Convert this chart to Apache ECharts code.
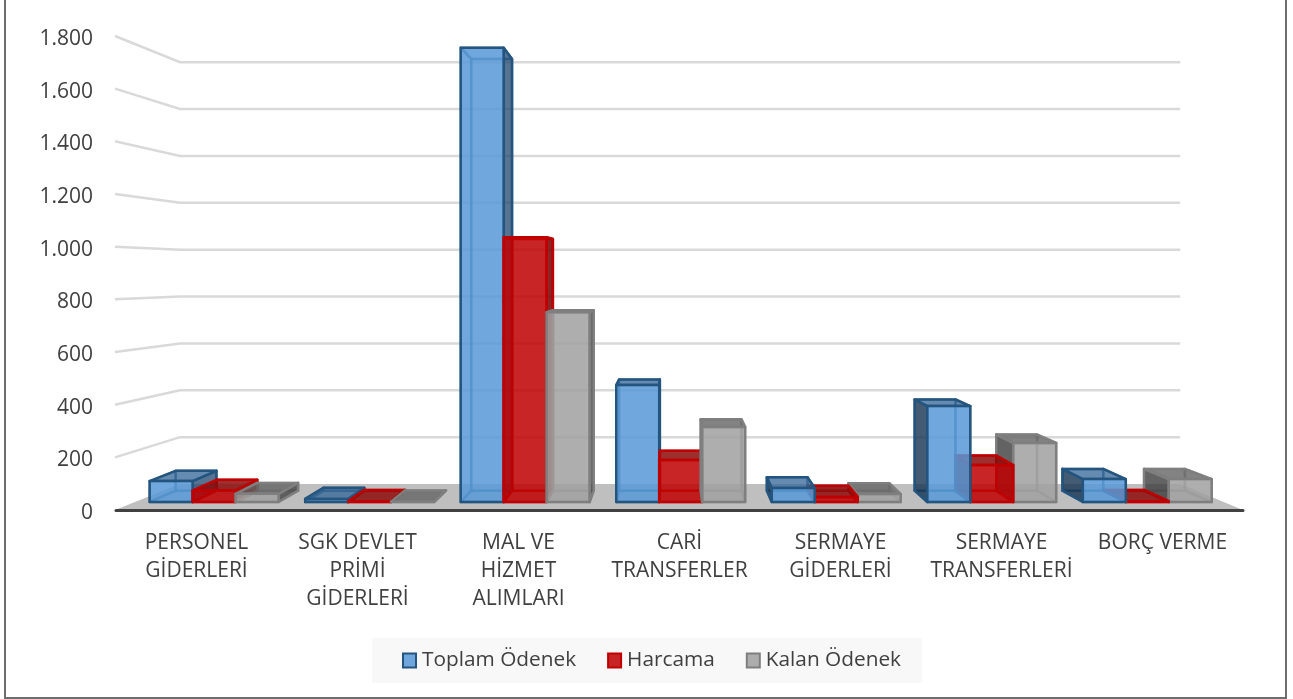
<!DOCTYPE html>
<html>
<head>
<meta charset="utf-8">
<style>
  html, body { margin: 0; padding: 0; background: #fff; }
  #main { width: 1293px; height: 699px; }
</style>
<script src="https://cdn.jsdelivr.net/npm/echarts@6/dist/echarts.min.js"></script>
</head>
<body>
<div id="main"></div>
<script>
const categories = ['PERSONEL\nGİDERLERİ', 'SGK DEVLET\nPRİMİ\nGİDERLERİ', 'MAL VE\nHİZMET\nALIMLARI', 'CARİ\nTRANSFERLER', 'SERMAYE\nGİDERLERİ', 'SERMAYE\nTRANSFERLERİ', 'BORÇ VERME']
const toplamOdenek = [82, 12, 1786, 460, 55, 377, 90]
const harcama = [45, 3, 1041, 165, 20, 145, 3]
const kalanOdenek = [32, 1, 746, 295, 31, 232, 90]
const wallTicks = [200, 400, 600, 800, 1000, 1200, 1400, 1600, 1800]

// perspective of the excel 3d chart
const VX = 672
const EY = 274
const T_FRONT = 0.034
const T_BACK = 0.082
const T_WALL = 0.11

const FONT = '"Open Sans", "Noto Sans", sans-serif'

const palettes = [
  { front: 'rgba(87,153,215,0.85)', line: '#24557f', top: 'rgba(50,100,150,0.75)', right: 'rgba(30,70,110,0.75)', left: 'rgba(20,50,80,0.8)', ghost: 'rgba(36,85,127,0.55)' },
  { front: 'rgba(190,0,0,0.85)', line: '#c00000', top: 'rgba(140,10,10,0.85)', right: 'rgba(120,0,0,0.85)', left: 'rgba(110,0,0,0.85)', ghost: 'rgba(192,0,0,0.6)' },
  { front: 'rgba(160,160,160,0.85)', line: '#7f7f7f', top: 'rgba(100,100,100,0.8)', right: 'rgba(70,70,70,0.8)', left: 'rgba(60,60,60,0.8)', ghost: 'rgba(127,127,127,0.5)' }
]

function project (x, y, t) {
  return [x + t * (VX - x), y + t * (EY - y)]
}

function face (points, fill, stroke, z2) {
  return {
    type: 'polygon',
    z2: z2,
    shape: { points: points },
    style: { fill: fill, stroke: stroke, lineWidth: 2.5, lineJoin: 'round' }
  }
}

function barRenderer (seriesIndex) {
  const pal = palettes[seriesIndex]
  return function (params, api) {
    const cat = api.value(0)
    const top = api.coord([cat, api.value(1)])
    const base = api.coord([cat, 0])
    const band = api.size([1, 0])[0]
    const w = band / 3.62
    const x0 = top[0] + (seriesIndex - 1.5) * w + 1.5
    const x1 = x0 + w

    const fbl = project(x0, base[1], T_FRONT)
    const fbr = project(x1, base[1], T_FRONT)
    const ftl = project(x0, top[1], T_FRONT)
    const ftr = project(x1, top[1], T_FRONT)
    const bbl = project(x0, base[1], T_BACK)
    const bbr = project(x1, base[1], T_BACK)
    const btl = project(x0, top[1], T_BACK)
    const btr = project(x1, top[1], T_BACK)

    // left of the vanishing point the bars stack blue over gray, right of it the other way
    const order = cat <= 3 ? seriesIndex : 2 - seriesIndex
    const z = 10 + order * 10
    const children = []

    children.push(face([bbl, bbr, btr, btl], 'transparent', pal.ghost, z))
    children.push(face([fbl, fbr, bbr, bbl], 'transparent', pal.ghost, z + 1))

    const leftVisible = bbl[0] < fbl[0]
    const rightVisible = bbr[0] > fbr[0]
    children.push(face([fbl, ftl, btl, bbl], leftVisible ? pal.left : 'transparent', leftVisible ? pal.line : pal.ghost, z + 2))
    children.push(face([fbr, ftr, btr, bbr], rightVisible ? pal.right : 'transparent', rightVisible ? pal.line : pal.ghost, z + 3))

    const topVisible = ftl[1] > EY
    children.push(face([ftl, ftr, btr, btl], topVisible ? pal.top : 'transparent', topVisible ? pal.line : pal.ghost, z + 4))
    children.push(face([fbl, fbr, ftr, ftl], pal.front, pal.line, z + 5))

    return { type: 'group', children: children }
  }
}

function wallRenderer (params, api) {
  const cs = params.coordSys
  const p = api.coord([0, api.value(0)])
  const left = [cs.x - 1, p[1]]
  const right = [cs.x + cs.width, p[1]]
  const backLeft = [left[0] + 65, project(left[0], left[1], T_WALL)[1]]
  const backRight = project(right[0], right[1], T_WALL)
  const lineStyle = { stroke: '#d9d9d9', lineWidth: 2.5, fill: 'none' }
  return {
    type: 'group',
    children: [
      { type: 'polyline', shape: { points: [left, backLeft, backRight] }, style: lineStyle }
    ]
  }
}

function floorRenderer (params, api) {
  const cs = params.coordSys
  const p = api.coord([0, 0])
  const left = [cs.x - 1, p[1]]
  const right = [cs.x + cs.width, p[1]]
  return {
    type: 'polygon',
    shape: {
      points: [left, right, project(right[0], right[1], T_WALL), [left[0] + 65, project(left[0], left[1], T_WALL)[1]]]
    },
    style: { fill: '#bfbfbf' }
  }
}

function barSeries (name, values, seriesIndex) {
  return {
    name: name,
    type: 'custom',
    coordinateSystem: 'cartesian2d',
    renderItem: barRenderer(seriesIndex),
    encode: { x: 0, y: 1 },
    data: values.map(function (v, i) { return [i, v] }),
    z: 5,
    silent: true
  }
}

function legendItem (name, i) {
  return {
    name: name,
    icon: 'rect',
    itemStyle: { color: palettes[i].front, borderColor: palettes[i].line, borderWidth: 2 }
  }
}

const chart = echarts.init(document.getElementById('main'), null, { renderer: 'canvas' })
chart.setOption({
  animation: false,
  backgroundColor: '#fff',
  graphic: [{
    type: 'rect',
    silent: true,
    z: 0,
    shape: { x: 5, y: -4, width: 1281, height: 702 },
    style: { fill: 'none', stroke: '#6e6e6e', lineWidth: 2 }
  }],
  grid: { left: 116, right: 50, top: 36, bottom: 189, containLabel: false },
  legend: {
    left: 372,
    top: 638,
    padding: [12, 21, 12, 30],
    backgroundColor: '#f8f8f8',
    itemWidth: 13,
    itemHeight: 14,
    itemGap: 31,
    selectedMode: false,
    textStyle: { fontFamily: FONT, fontSize: 20.8, color: '#404040', padding: [3, 0, 0, 1] },
    data: [legendItem('Toplam Ödenek', 0), legendItem('Harcama', 1), legendItem('Kalan Ödenek', 2)]
  },
  xAxis: {
    type: 'category',
    data: categories,
    z: 3,
    axisTick: { show: false },
    axisLine: { show: true, lineStyle: { color: '#404040', width: 3 } },
    axisLabel: {
      interval: 0,
      margin: 19,
      fontFamily: FONT,
      fontSize: 21,
      lineHeight: 28,
      color: '#404040',
      verticalAlign: 'top'
    }
  },
  yAxis: {
    type: 'value',
    min: 0,
    max: 1800,
    interval: 200,
    axisLine: { show: false },
    axisTick: { show: false },
    splitLine: { show: false },
    axisLabel: {
      margin: 23,
      fontFamily: FONT,
      fontSize: 21,
      color: '#404040',
      verticalAlign: 'top',
      lineHeight: 6,
      formatter: function (v) { return String(v).replace(/\B(?=(\d{3})+$)/g, '.') }
    }
  },
  series: [
    { name: 'duvar', type: 'custom', renderItem: wallRenderer, data: wallTicks.map(function (v) { return [v] }), encode: { y: 0 }, z: 1, silent: true },
    { name: 'zemin', type: 'custom', renderItem: floorRenderer, data: [[0]], z: 2, silent: true },
    barSeries('Toplam Ödenek', toplamOdenek, 0),
    barSeries('Harcama', harcama, 1),
    barSeries('Kalan Ödenek', kalanOdenek, 2)
  ]
})
</script>
</body>
</html>
